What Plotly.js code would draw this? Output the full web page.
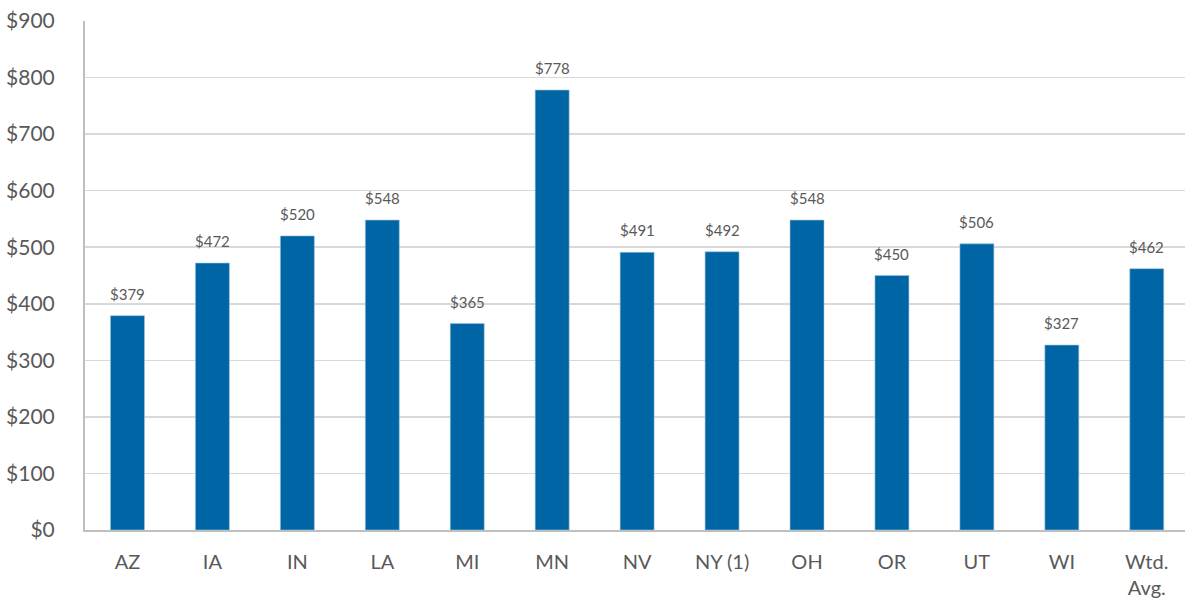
<!DOCTYPE html>
<html><head><meta charset="utf-8">
<script src="https://cdn.plot.ly/plotly-3.0.1.min.js"></script>
<style>html,body{margin:0;padding:0;background:#fff;}</style>
</head><body>
<div id="chart" style="width:1185px;height:601px;"></div>
<script>
const categories = ["AZ","IA","IN","LA","MI","MN","NV","NY (1)","OH","OR","UT","WI","Wtd.<br>Avg."];
const values = [379,472,520,548,365,778,491,492,548,450,506,327,462];
const yTickVals = [0,100,200,300,400,500,600,700,800,900];
const yTickText = yTickVals.map(v => "$" + v);
const labels = values.map(v => "$" + v);

const FONT = "Lato, 'Open Sans', sans-serif";

const trace = {
  type: "bar",
  x: categories.map((c,i)=>i),
  y: values,
  marker: {color: "#0065A4", line: {color: "#9ec3de", width: 0.6}},
  hoverinfo: "none"
};

const annotations = values.map((v,i) => ({
  x: i, y: v, xref: "x", yref: "y",
  text: labels[i], showarrow: false,
  yanchor: "bottom", yshift: 11,
  font: {family: FONT, size: 15, color: "#595959"}
}));

const layout = {
  width: 1185, height: 601,
  margin: {l: 85, r: 0, t: 21, b: 71},
  paper_bgcolor: "#fff", plot_bgcolor: "#fff",
  bargap: 0.6,
  showlegend: false,
  font: {family: FONT, color: "#595959"},
  annotations: annotations,
  xaxis: {
    range: [-0.5, 12.45],
    tickvals: categories.map((c,i)=>i),
    ticktext: categories,
    tickfont: {family: FONT, size: 20, color: "#595959"},
    showgrid: false, zeroline: false,
    showline: true, linecolor: "#bfbfbf", linewidth: 2,
    ticks: "", ticklen: 0, ticklabelstandoff: 13, automargin: false
  },
  yaxis: {
    range: [0, 900],
    tickvals: yTickVals, ticktext: yTickText,
    tickfont: {family: FONT, size: 21, color: "#595959"},
    showgrid: true, gridcolor: "#d9d9d9", gridwidth: 1.5,
    zeroline: false,
    showline: true, linecolor: "#bfbfbf", linewidth: 2,
    ticks: "", ticklen: 0, ticklabelstandoff: 24, automargin: false
  }
};
Plotly.newPlot("chart", [trace], layout, {displayModeBar: false, staticPlot: true});
</script>
</body></html>
